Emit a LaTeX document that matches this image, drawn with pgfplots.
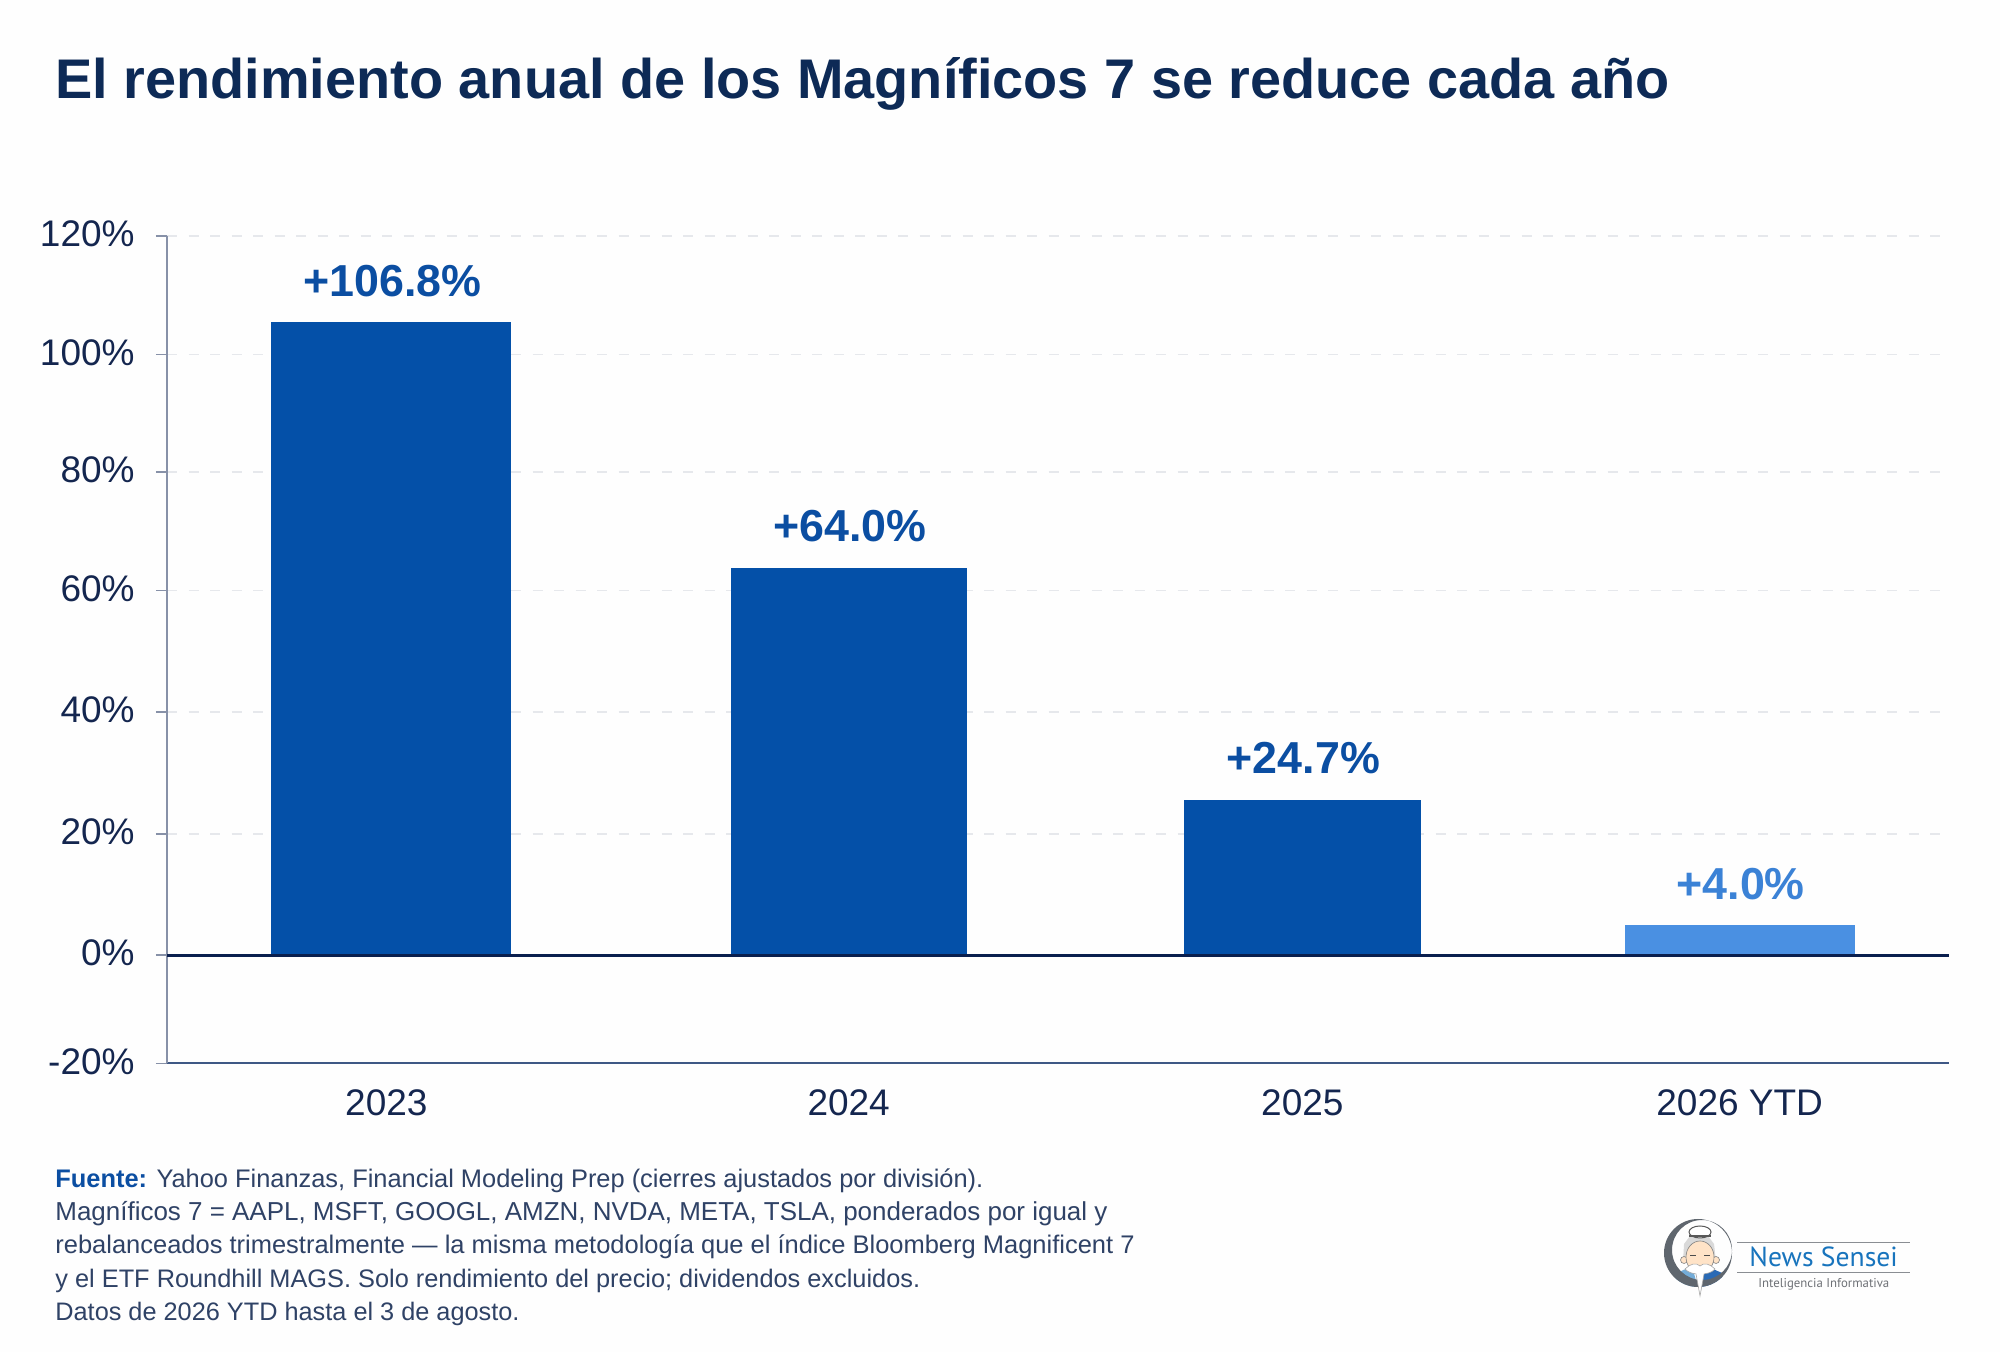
\documentclass[border=0pt]{standalone}
\usepackage{fontspec}
\setmainfont{Liberation Sans}
\newfontfamily\logofont{PT Sans}
\usepackage{pgfplots}
\pgfplotsset{compat=1.18}

\definecolor{navy}{HTML}{0D2A56}
\definecolor{ticktext}{HTML}{14264F}
\definecolor{barblue}{HTML}{0450A8}
\definecolor{lightblue}{HTML}{4A90E2}
\definecolor{labelblue}{HTML}{0B4EA2}
\definecolor{labellight}{HTML}{3B82D6}
\definecolor{gridc}{HTML}{E6E8EC}
\definecolor{axisgray}{HTML}{8791A8}
\definecolor{axisblue}{HTML}{3E5885}
\definecolor{zeroc}{HTML}{0A1F4E}
\definecolor{foot}{HTML}{2F4266}
\definecolor{logoblue}{HTML}{1874BD}
\definecolor{logogray}{HTML}{8A8E93}
\definecolor{ringc}{HTML}{5F666E}

\newcommand{\footsize}[1]{\fontsize{#1pt}{14pt}\selectfont}

\begin{document}
\begin{tikzpicture}
\path[use as bounding box, fill=white!99!gray] (0,0) rectangle (1000pt,676pt);

\begin{axis}[
    at={(83.5pt,144.25pt)}, anchor=south west,
    scale only axis, width=891pt, height=413.75pt,
    xmin=0, xmax=3.916, ymin=-18.1, ymax=120,
    axis x line*=bottom, axis y line*=left,
    x axis line style={draw=axisblue, line width=1pt, -},
    y axis line style={draw=axisgray, line width=0.75pt, -},
    xtick={0.482,1.498,2.495,3.456},
    xticklabels={2023,2024,2025,2026 YTD},
    ytick={-18.1,0,20.2,40.55,60.8,80.6,100.2,120},
    yticklabels={-20\%,0\%,20\%,40\%,60\%,80\%,100\%,120\%},
    major tick length=5.5pt, tick align=outside,
    ytick style={draw=axisgray, line width=0.75pt},
    xtick style={draw=none},
    ymajorgrids,
    grid style={draw=gridc, line width=0.6pt, dash pattern=on 5pt off 5.75pt},
    tick label style={font=\fontsize{18.5pt}{20pt}\selectfont, text=ticktext},
    yticklabel style={inner sep=0pt, xshift=-10.5pt, yshift=1pt},
    xticklabel style={inner sep=0pt, yshift=-7.5pt},
    /pgf/number format/assume math mode=true,
    point meta=explicit symbolic,
    nodes near coords,
    every node near coord/.append style={anchor=base, yshift=13pt, xshift=0.5pt, inner sep=0pt,
        font=\fontsize{22.4pt}{24pt}\selectfont\bfseries, text=labelblue},
    clip=false,
]
\addplot[ybar, bar width=120pt, fill=barblue, draw=none] coordinates {(0.493,105.6) [+106.8\%]};
\addplot[ybar, bar width=118pt, fill=barblue, draw=none] coordinates {(1.498,64.65) [+64.0\%]};
\addplot[ybar, bar width=118.5pt, fill=barblue, draw=none] coordinates {(2.495,25.9) [+24.7\%]};
\addplot[ybar, bar width=115pt, fill=lightblue, draw=none,
    every node near coord/.append style={text=labellight}] coordinates {(3.456,5.0) [+4.0\%]};
\addplot[draw=zeroc, line width=1.5pt, no markers, nodes near coords={}] coordinates {(0,0) (3.916,0)};
\end{axis}

% everything around the axis, in reference pixels
\begin{scope}[shift={(0,676pt)}, x=0.5pt, y=-0.5pt]
\node[anchor=base west, inner sep=0pt, text=navy, font=\fontsize{27.93pt}{30pt}\selectfont\bfseries]
  at (55,98.5) {El rendimiento anual de los Magníficos 7 se reduce cada año};

\begin{scope}[every node/.style={anchor=base west, inner sep=0pt, text=foot}]
\node[font=\footsize{12.7}] at (55,1187.5) {\textcolor{labelblue}{\bfseries Fuente:} Yahoo Finanzas, Financial Modeling Prep (cierres ajustados por división).};
\node[font=\footsize{12.98}] at (55,1220.5) {Magníficos 7 = AAPL, MSFT, GOOGL, AMZN, NVDA, META, TSLA, ponderados por igual y};
\node[font=\footsize{12.74}] at (55,1253.5) {rebalanceados trimestralmente — la misma metodología que el índice Bloomberg Magnificent 7};
\node[font=\footsize{12.67}] at (55,1287.5) {y el ETF Roundhill MAGS. Solo rendimiento del precio; dividendos excluidos.};
\node[font=\footsize{12.65}] at (55,1320.5) {Datos de 2026 YTD hasta el 3 de agosto.};
\end{scope}

% logo
\begin{scope}
\clip (1698,1253) circle (34);
\fill[logoblue!60!white] (1672,1292) -- (1677,1273) -- (1692,1266) -- (1699,1292) -- cycle;
\fill[barblue!85!white] (1726,1292) -- (1722,1273) -- (1706,1266) -- (1699,1292) -- cycle;
\end{scope}
\fill[ringc, even odd rule] (1698,1253) circle (34) (1702,1250) circle (30);
\fill[gray!30] (1683,1262) -- (1684,1244) -- (1690,1236) -- (1708,1236) -- (1714,1244) -- (1716,1262) -- cycle;
\draw[black!65, fill=white, line width=0.5pt] (1700,1232) ellipse (11 and 6);
\draw[black!65, line width=0.7pt] (1689,1236) -- (1711,1236);
\fill[orange!22!white, draw=black!50, line width=0.3pt] (1684,1260) circle (3.5) (1716,1260) circle (3.5);
\fill[orange!22!white, draw=black!50, line width=0.3pt] (1700,1257) ellipse (14 and 16);
\draw[black!70, line width=0.4pt] (1690,1255) -- (1696,1255) (1704,1255) -- (1710,1255);
\fill[white, draw=black!35, line width=0.3pt] (1685,1269) .. controls (1690,1264) and (1696,1262) .. (1700,1266)
   .. controls (1704,1262) and (1710,1264) .. (1715,1269) .. controls (1710,1274) and (1706,1273) .. (1704,1274)
   -- (1700,1296) -- (1696,1274) .. controls (1694,1273) and (1690,1274) .. cycle;

\draw[logogray, line width=0.7pt] (1737,1242.7) -- (1910,1242.7);
\draw[logogray, line width=0.7pt] (1737,1272.7) -- (1910,1272.7);
\node[anchor=base west, inner sep=0pt, text=logoblue, font=\logofont\fontsize{13.8pt}{16pt}\selectfont] at (1749,1267) {News Sensei};
\node[anchor=base west, inner sep=0pt, text=logogray!80!black, font=\logofont\fontsize{6.4pt}{8pt}\selectfont] at (1758,1288) {Inteligencia Informativa};
\end{scope}
\end{tikzpicture}
\end{document}
